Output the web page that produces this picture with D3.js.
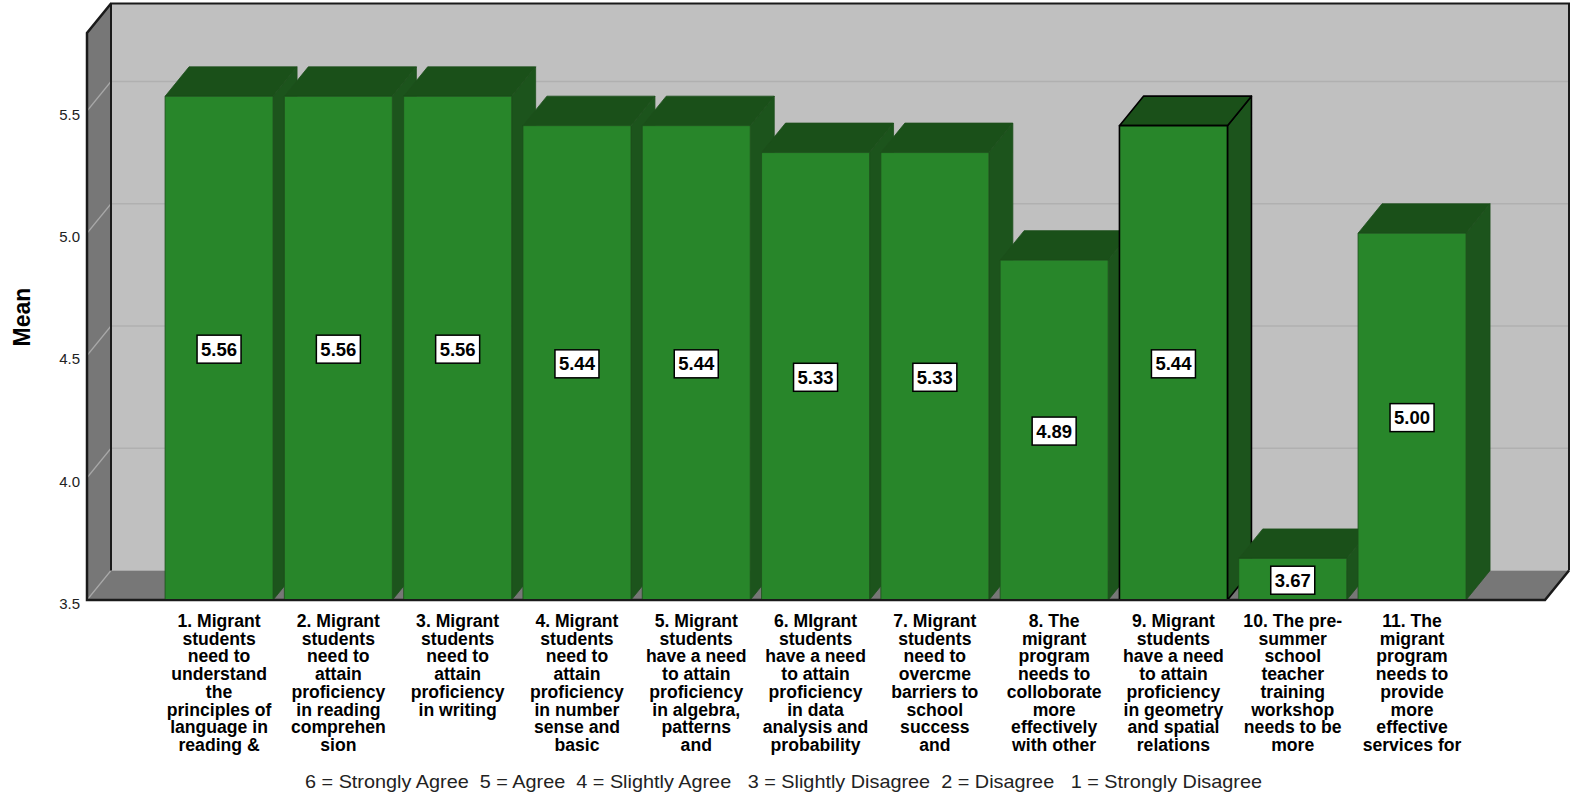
<!DOCTYPE html>
<html>
<head>
<meta charset="utf-8">
<script src="https://cdn.jsdelivr.net/npm/d3@7"></script>
<style>
  html, body { margin: 0; padding: 0; background: #fff; }
  svg { display: block; font-family: "Liberation Sans", Arial, sans-serif; }
</style>
</head>
<body>
<svg id="chart" width="1572" height="796"></svg>
<script>
// Survey items (wrapped as in the category axis)
const categories = [
  ["1. Migrant", "students", "need to", "understand", "the", "principles of", "language in", "reading &"],
  ["2. Migrant", "students", "need to", "attain", "proficiency", "in reading", "comprehen", "sion"],
  ["3. Migrant", "students", "need to", "attain", "proficiency", "in writing"],
  ["4. Migrant", "students", "need to", "attain", "proficiency", "in number", "sense and", "basic"],
  ["5. Migrant", "students", "have a need", "to attain", "proficiency", "in algebra,", "patterns", "and"],
  ["6. MIgrant", "students", "have a need", "to attain", "proficiency", "in data", "analysis and", "probability"],
  ["7. Migrant", "students", "need to", "overcme", "barriers to", "school", "success", "and"],
  ["8. The", "migrant", "program", "needs to", "colloborate", "more", "effectively", "with other"],
  ["9. Migrant", "students", "have a need", "to attain", "proficiency", "in geometry", "and spatial", "relations"],
  ["10. The pre-", "summer", "school", "teacher", "training", "workshop", "needs to be", "more"],
  ["11. The", "migrant", "program", "needs to", "provide", "more", "effective", "services for"]
];
const means = [5.56, 5.56, 5.56, 5.44, 5.44, 5.33, 5.33, 4.89, 5.44, 3.67, 5.00];
const yTicks = [3.5, 4.0, 4.5, 5.0, 5.5];
const yTitle = "Mean";
const footnote = "6 = Strongly Agree  5 = Agree  4 = Slightly Agree   3 = Slightly Disagree  2 = Disagree   1 = Strongly Disagree";
const highlighted = 8; // the item drawn with a black outline

const svg = d3.select("#chart");

// Front plane of the 3D box and the depth offset
const boxL = 87, boxR = 1545, boxB = 600, boxT = 33;
const dx = 24, dy = -29.5;

const y = d3.scaleLinear().domain([3.5, 5.5]).range([boxB, 111]);
const keys = categories.map((c, i) => i);
const x = d3.scaleBand().domain(keys)
  .range([159.4, 1471.7]).paddingInner(0.0947).paddingOuter(0.0474);

const poly = pts => "M" + pts.map(p => p.join(",")).join("L") + "Z";

// Back wall
svg.append("rect")
  .attr("x", boxL + dx).attr("y", boxT + dy)
  .attr("width", boxR - boxL).attr("height", boxB - boxT)
  .attr("fill", "#c0c0c0");

// Left side wall
svg.append("path")
  .attr("d", poly([[boxL, boxT], [boxL + dx, boxT + dy], [boxL + dx, boxB + dy], [boxL, boxB]]))
  .attr("fill", "#777777");

// Floor
svg.append("path")
  .attr("d", poly([[boxL, boxB], [boxL + dx, boxB + dy], [boxR + dx, boxB + dy], [boxR, boxB]]))
  .attr("fill", "#777777");

// Grid lines on back wall and side wall
const grid = svg.append("g");
yTicks.forEach(t => {
  if (t > 3.5) {
    grid.append("line")
      .attr("x1", boxL + dx).attr("x2", boxR + dx)
      .attr("y1", y(t) + dy).attr("y2", y(t) + dy)
      .attr("stroke", "#b0b0b0").attr("stroke-width", 1.5);
  }
  grid.append("line")
    .attr("x1", boxL).attr("x2", boxL + dx)
    .attr("y1", y(t)).attr("y2", y(t) + dy)
    .attr("stroke", "#a8a8a8").attr("stroke-width", 1.2);
});

// Box edges
const edges = svg.append("g").attr("fill", "none").attr("stroke", "#1a1a1a");
edges.append("path").attr("stroke-width", 2)
  .attr("d", `M${boxL + dx},${boxB + dy}V${boxT + dy}H${boxR + dx}V${boxB + dy}`);
edges.append("path").attr("stroke-width", 2.5)
  .attr("d", `M${boxL + dx},${boxT + dy}L${boxL},${boxT}V${boxB}H${boxR}L${boxR + dx},${boxB + dy}`);

// Bars (drawn left to right so each front face hides the previous side)
const bars = svg.append("g");
means.forEach((v, i) => {
  const x0 = x(i), x1 = x(i) + x.bandwidth(), yt = y(v);
  const hi = i === highlighted;
  const g = bars.append("g")
    .attr("stroke", hi ? "#000" : "#1d4f1c")
    .attr("stroke-width", hi ? 1.6 : 0.8)
    .attr("stroke-linejoin", "round");
  g.append("path") // side
    .attr("d", poly([[x1, yt], [x1 + dx, yt + dy], [x1 + dx, boxB + dy], [x1, boxB]]))
    .attr("fill", "#1c541c");
  g.append("path") // top
    .attr("d", poly([[x0, yt], [x0 + dx, yt + dy], [x1 + dx, yt + dy], [x1, yt]]))
    .attr("fill", "#1a5019");
  g.append("rect") // front
    .attr("x", x0).attr("y", yt)
    .attr("width", x.bandwidth()).attr("height", boxB - yt)
    .attr("fill", "#28862a");
});

// Front floor edge drawn over bar bottoms
svg.append("line")
  .attr("x1", boxL).attr("x2", boxR).attr("y1", boxB).attr("y2", boxB)
  .attr("stroke", "#1a1a1a").attr("stroke-width", 2);

// Value labels
const labels = svg.append("g");
means.forEach((v, i) => {
  const cx = x(i) + x.bandwidth() / 2;
  const cy = (y(v) + boxB) / 2 + 1;
  labels.append("rect")
    .attr("x", cx - 22).attr("y", cy - 14)
    .attr("width", 44).attr("height", 28)
    .attr("fill", "#fff").attr("stroke", "#000").attr("stroke-width", 1.5);
  labels.append("text")
    .attr("x", cx).attr("y", cy)
    .attr("text-anchor", "middle").attr("dominant-baseline", "central")
    .attr("font-size", 18.5).attr("font-weight", "bold").attr("fill", "#000")
    .text(v.toFixed(2));
});

// Y axis tick labels
const yAxis = d3.axisLeft(y).tickValues(yTicks).tickSize(0).tickPadding(0)
  .tickFormat(d3.format(".1f"));
const ya = svg.append("g").attr("transform", `translate(${boxL - 7},3.5)`).call(yAxis);
ya.select(".domain").remove();
ya.selectAll("text")
  .attr("font-family", "'Liberation Sans', Arial, sans-serif")
  .attr("font-size", 15).attr("fill", "#222");

// Y axis title
svg.append("text")
  .attr("transform", "translate(30,317) rotate(-90)")
  .attr("text-anchor", "middle")
  .attr("font-size", 23).attr("font-weight", "bold").attr("fill", "#000")
  .text(yTitle);

// Category labels
const cat = svg.append("g");
categories.forEach((lines, i) => {
  const cx = x(i) + x.bandwidth() / 2;
  const t = cat.append("text")
    .attr("text-anchor", "middle")
    .attr("font-size", 17.6).attr("font-weight", "bold").attr("fill", "#000");
  lines.forEach((ln, k) => {
    t.append("tspan").attr("x", cx).attr("y", 627 + k * 17.7).text(ln);
  });
});

// Scale legend under the chart
svg.append("text")
  .attr("x", 305).attr("y", 788)
  .attr("textLength", 957).attr("lengthAdjust", "spacingAndGlyphs")
  .attr("font-size", 19).attr("fill", "#222")
  .attr("xml:space", "preserve").style("white-space", "pre")
  .text(footnote);
</script>
</body>
</html>
